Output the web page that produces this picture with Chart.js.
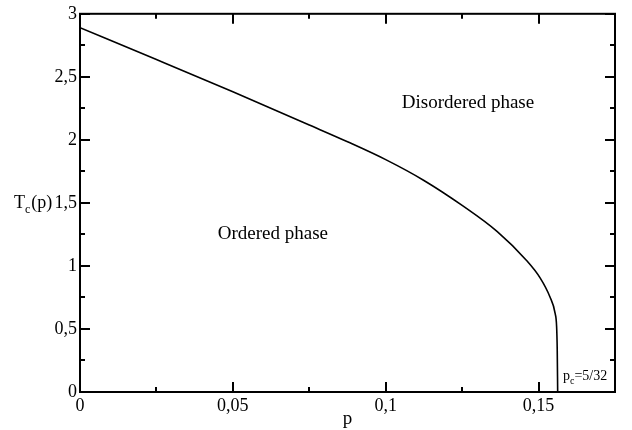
<!DOCTYPE html>
<html>
<head>
<meta charset="utf-8">
<script src="https://cdn.jsdelivr.net/npm/chart.js@4/dist/chart.umd.min.js"></script>
<style>
  html, body { margin: 0; padding: 0; background: #fff; }
</style>
</head>
<body>
<canvas id="phaseChart" width="632" height="430"></canvas>
<script>
// critical line T_c(p)
const pValues = [0, 0.025, 0.05, 0.075, 0.0875, 0.1, 0.1125, 0.125, 0.1365, 0.146, 0.1505, 0.1537, 0.1554, 0.1559, 0.1561, 0.15625];
const tcValues = [2.89, 2.637, 2.381, 2.118, 1.985, 1.843, 1.678, 1.48, 1.272, 1.045, 0.905, 0.755, 0.625, 0.52, 0.34, 0];

const xTicks = [0, 0.05, 0.1, 0.15];
const xMinorTicks = [0.025, 0.075, 0.125];
const yTicks = [0, 0.5, 1, 1.5, 2, 2.5, 3];
const yMinorTicks = [0.25, 0.75, 1.25, 1.75, 2.25, 2.75];

// region labels, in data coordinates
const phaseLabels = ['Disordered phase', 'Ordered phase'];
const phaseLabelP = [0.1269, 0.0631];
const phaseLabelT = [2.29, 1.255];

const serif = '"Liberation Serif", "DejaVu Serif", serif';

function fmt(v) {
  return String(+v.toFixed(3)).replace('.', ',');
}

const points = pValues.map((p, i) => ({ x: p, y: tcValues[i] }));

// frame, inward ticks on all four sides, and the extra texts
const framePlugin = {
  id: 'frame',
  afterDraw(chart) {
    const ctx = chart.ctx;
    const a = chart.chartArea;
    const xs = chart.scales.x, ys = chart.scales.y;
    ctx.save();
    ctx.strokeStyle = '#000';
    ctx.lineWidth = 2;
    ctx.strokeRect(a.left, a.top, a.right - a.left, a.bottom - a.top);

    ctx.beginPath();
    const xTick = (v, len) => {
      const px = Math.round(xs.getPixelForValue(v));
      ctx.moveTo(px, a.bottom); ctx.lineTo(px, a.bottom - len);
      ctx.moveTo(px, a.top); ctx.lineTo(px, a.top + len);
    };
    const yTick = (v, len) => {
      const py = Math.round(ys.getPixelForValue(v));
      ctx.moveTo(a.left, py); ctx.lineTo(a.left + len, py);
      ctx.moveTo(a.right, py); ctx.lineTo(a.right - len, py);
    };
    xTicks.forEach(v => xTick(v, 10));
    xMinorTicks.forEach(v => xTick(v, 5));
    yTicks.forEach(v => yTick(v, 10));
    yMinorTicks.forEach(v => yTick(v, 5));
    ctx.stroke();

    ctx.fillStyle = '#000';
    ctx.textBaseline = 'middle';
    ctx.textAlign = 'center';
    ctx.font = '19px ' + serif;
    phaseLabels.forEach((txt, i) => {
      ctx.fillText(txt, xs.getPixelForValue(phaseLabelP[i]), ys.getPixelForValue(phaseLabelT[i]));
    });

    // y axis title T_c(p)
    ctx.textBaseline = 'alphabetic';
    ctx.textAlign = 'left';
    let x = 14;
    ctx.font = '18px ' + serif;
    ctx.fillText('T', x, 208);
    x += ctx.measureText('T').width;
    ctx.font = '12px ' + serif;
    ctx.fillText('c', x, 213);
    x += ctx.measureText('c').width + 1;
    ctx.font = '18px ' + serif;
    ctx.fillText('(p)', x, 208);

    // p_c = 5/32 marker
    x = 563;
    ctx.font = '14px ' + serif;
    ctx.fillText('p', x, 380);
    x += ctx.measureText('p').width;
    ctx.font = '10px ' + serif;
    ctx.fillText('c', x, 384);
    x += ctx.measureText('c').width;
    ctx.font = '14px ' + serif;
    ctx.fillText('=5/32', x, 380);
    ctx.restore();
  }
};

new Chart(document.getElementById('phaseChart'), {
  type: 'line',
  data: {
    datasets: [{
      data: points,
      borderColor: '#000',
      borderWidth: 1.6,
      pointRadius: 0,
      fill: false,
      cubicInterpolationMode: 'monotone'
    }]
  },
  options: {
    responsive: false,
    animation: false,
    devicePixelRatio: 1,
    layout: { padding: { top: 12, right: 17, left: 0, bottom: 0 } },
    plugins: { legend: { display: false }, tooltip: { enabled: false } },
    scales: {
      x: {
        type: 'linear',
        min: 0,
        max: 0.175,
        afterBuildTicks: s => { s.ticks = xTicks.map(v => ({ value: v })); },
        afterFit: s => { s.height = 38; },
        grid: { display: false, drawTicks: false },
        border: { display: false },
        ticks: {
          color: '#000',
          padding: 3,
          maxRotation: 0,
          font: { family: serif, size: 18 },
          callback: v => fmt(v)
        },
        title: {
          display: true,
          text: 'p',
          color: '#000',
          font: { family: serif, size: 19 },
          padding: { top: 0, bottom: 0 }
        }
      },
      y: {
        type: 'linear',
        min: 0,
        max: 3,
        afterBuildTicks: s => { s.ticks = yTicks.map(v => ({ value: v })); },
        afterFit: s => { s.width = 80; },
        grid: { display: false, drawTicks: false },
        border: { display: false },
        ticks: {
          color: '#000',
          padding: 3,
          font: { family: serif, size: 18 },
          callback: v => fmt(v)
        }
      }
    }
  },
  plugins: [framePlugin]
});
</script>
</body>
</html>
